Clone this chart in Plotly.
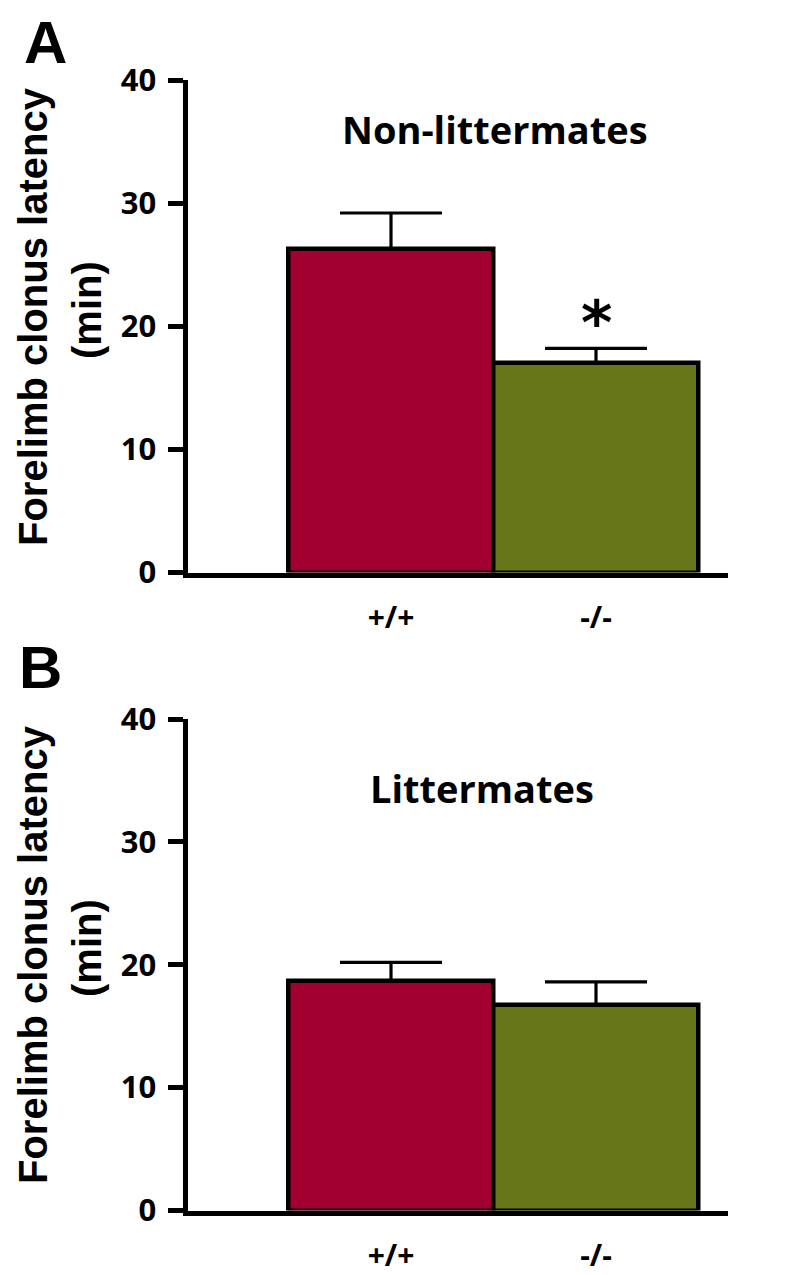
import plotly.graph_objects as go

# ---- data ----
genotypes = ["+/+", "-/-"]
panel_titles = ["Non-littermates", "Littermates"]
panel_letters = ["A", "B"]
nonlit_mean = [26.3, 17.0]
nonlit_sem = [2.9, 1.2]
lit_mean = [18.7, 16.7]
lit_sem = [1.5, 1.9]
y_ticks = [0, 10, 20, 30, 40]
bar_colors = ["#A30032", "#68761A"]
y_title_line1 = "Forelimb clonus latency"
y_title_line2 = "(min)"
signif_marks = ["", "*"]

# page body has an 8px margin; layout coordinates = screen - 8
OFF = 8
W, H = 795 - OFF, 1275 - OFF
FONT = "Open Sans"
FONT2 = "Liberation Sans"


def fx(sx):
    return (sx - OFF) / W


def fy(sy):
    return 1 - (sy - OFF) / H


fig = go.Figure()

panels = [
    (nonlit_mean, nonlit_sem, "x", "y"),
    (lit_mean, lit_sem, "x2", "y2"),
]
for means, sems, xa, ya in panels:
    fig.add_trace(go.Bar(
        x=genotypes, y=means,
        xaxis=xa, yaxis=ya,
        width=1.0,
        marker=dict(color=bar_colors, line=dict(color="black", width=4.5)),
        error_y=dict(type="data", array=sems, arrayminus=[0] * len(sems),
                     symmetric=False, color="black", thickness=3.2, width=51),
        showlegend=False,
    ))

x_dom = [fx(187.5), fx(728)]
yA = [fy(572.5), fy(80)]
yB = [fy(1210.5), fy(719)]
x_range = [(187.5 - 391) / 205, 1 + (728 - 596) / 205]

xcommon = dict(
    domain=x_dom, range=x_range, type="category", automargin=False,
    showline=True, linewidth=5, linecolor="black",
    ticks="", showgrid=False, zeroline=False,
    tickfont=dict(family=FONT, size=30, color="black", weight="bold"),
    ticklabelstandoff=14,
)
ycommon = dict(
    range=[0, 40], tickvals=y_ticks, automargin=False,
    showline=True, linewidth=5, linecolor="black",
    ticks="outside", ticklen=15, tickwidth=4.5, tickcolor="black",
    showgrid=False, zeroline=False,
    tickfont=dict(family=FONT, size=31, color="black", weight="bold"),
    ticklabelstandoff=5,
)

fig.update_layout(
    width=W, height=H,
    margin=dict(l=0, r=0, t=0, b=0, pad=0),
    paper_bgcolor="white", plot_bgcolor="white",
    bargap=0,
    xaxis=dict(**xcommon, anchor="y"),
    yaxis=dict(**ycommon, domain=yA, anchor="x"),
    xaxis2=dict(**xcommon, anchor="y2"),
    yaxis2=dict(**ycommon, domain=yB, anchor="x2"),
)

ann = []
# panel titles
for title, xc, yc in [(panel_titles[0], 495, 129), (panel_titles[1], 482, 788)]:
    ann.append(dict(text=title, xref="paper", yref="paper", x=fx(xc), y=fy(yc),
                    xanchor="center", yanchor="middle", showarrow=False,
                    font=dict(family=FONT, size=38, color="black", weight="bold")))
# panel letters
LETTER_FONT = dict(family=FONT2, size=60, color="black", weight="bold")
ann.append(dict(text=panel_letters[0], xref="paper", yref="paper", x=fx(45), y=1,
                xanchor="center", yanchor="top", borderpad=0, showarrow=False, font=LETTER_FONT))
ann.append(dict(text=panel_letters[1], xref="paper", yref="paper", x=fx(40), y=fy(668),
                xanchor="center", yanchor="middle", showarrow=False, font=LETTER_FONT))
# y-axis titles (two lines each)
YT_FONT = dict(family=FONT2, size=40, color="black", weight="bold")
for ymid in [317, 955]:
    ann.append(dict(text=y_title_line1, xref="paper", yref="paper", x=fx(33), y=fy(ymid),
                    xanchor="center", yanchor="middle", textangle=-90, showarrow=False,
                    font=YT_FONT))
    ann.append(dict(text=y_title_line2, xref="paper", yref="paper", x=fx(87), y=fy(ymid - 7),
                    xanchor="center", yanchor="middle", textangle=-90, showarrow=False,
                    font=YT_FONT))
# significance asterisk
for g, m, s, mark in zip(genotypes, nonlit_mean, nonlit_sem, signif_marks):
    if mark:
        ann.append(dict(text=mark, xref="x", yref="y", x=g, y=m + s,
                        xanchor="center", yanchor="bottom", yshift=-12, showarrow=False,
                        font=dict(family="DejaVu Sans", size=60, color="black", weight="bold")))

fig.update_layout(annotations=ann)
fig.write_html("out.html")
